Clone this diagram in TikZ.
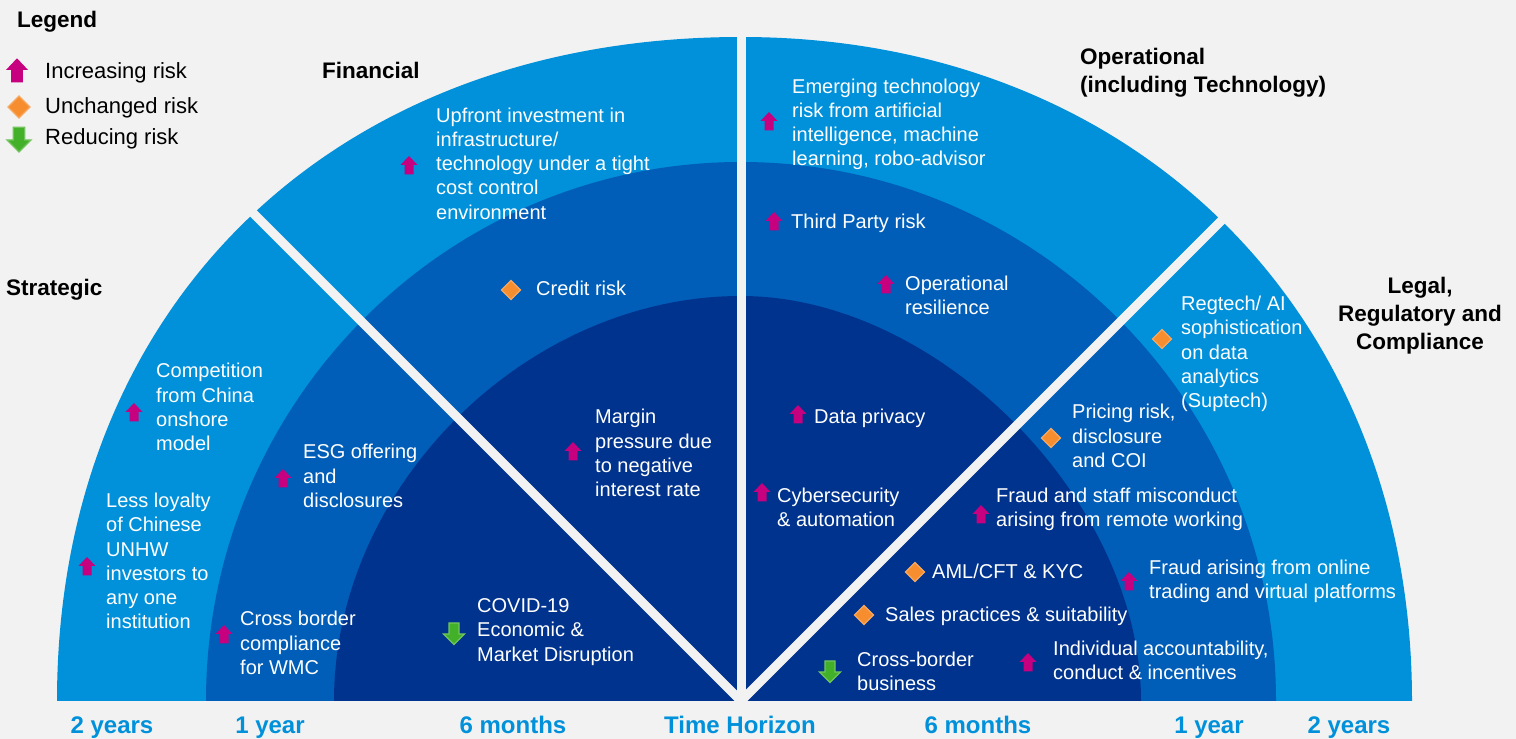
\documentclass[tikz,border=0pt]{standalone}
\usepackage{fontspec}
\setmainfont{Liberation Sans}
\usetikzlibrary{positioning}

\definecolor{bgrey}{HTML}{F2F2F2}
\definecolor{ringout}{HTML}{0091DA}
\definecolor{ringmid}{HTML}{005EB8}
\definecolor{ringin}{HTML}{00338D}
\definecolor{riskpink}{HTML}{C6007E}
\definecolor{riskorange}{HTML}{F68D2E}
\definecolor{riskgreen}{HTML}{43B02A}

\tikzset{
  riskup/.pic={\fill[riskpink] (-4.5,-9.5) -- (-4.5,0) -- (-8.5,0) -- (0,9) -- (8.5,0) -- (4.5,0) -- (4.5,-9.5) -- cycle;},
  riskflat/.pic={\fill[riskorange, draw=riskorange!75, line width=1.2] (0,9.5) -- (9.5,0) -- (0,-9.5) -- (-9.5,0) -- cycle;},
  riskdown/.pic={\fill[riskgreen, draw=riskgreen!75, line width=1.2] (-5,11) -- (-5,0) -- (-10.5,0) -- (0,-10.5) -- (10.5,0) -- (5,0) -- (5,11) -- cycle;},
  risk/.style={text=white, font=\fontsize{20}{24.2}\selectfont, align=left, anchor=west, inner sep=0pt},
  heading/.style={font=\bfseries\fontsize{22.5}{28}\selectfont, align=left, anchor=west, inner sep=0pt},
  legtext/.style={font=\fontsize{22}{26}\selectfont, anchor=west, inner sep=0pt},
  horizon/.style={text=ringout, font=\bfseries\fontsize{24}{28}\selectfont, anchor=base, inner sep=0pt},
  divider/.style={draw=bgrey, line width=9}
}

\begin{document}
\begin{tikzpicture}[x=1pt, y=1pt]
  \fill[bgrey] (0,0) rectangle (1516,739);
  \useasboundingbox (0,0) rectangle (1516,739);

  \coordinate (O) at (741,38);

  % rings, outside in
  \fill[ringout] (57,38) .. controls (57,433.7) and (333.3,702) .. (741,702)
                 .. controls (1134.2,702) and (1412,427.1) .. (1412,38) -- cycle;
  \fill[ringmid] (206,38) .. controls (206,335.7) and (445.5,577) .. (741,577)
                 .. controls (1036.5,577) and (1276,335.7) .. (1276,38) -- cycle;
  \fill[ringin] (334,38) .. controls (334,252.2) and (525.7,443) .. (741,443)
                .. controls (938.6,443) and (1141,238.1) .. (1141,38) -- cycle;

  % sector dividers
  \foreach \a in {45,90,135}
    \draw[divider] (O) -- ++(\a:740);

  % legend
  \node[heading] (legend) at (17,717) {Legend};
  \pic[scale=1.3] at (17,669) {riskup};
  \node[legtext] (leginc) at (45,666) {Increasing risk};
  \pic[scale=1.15] at (19,632) {riskflat};
  \node[legtext] (legsame) at (45,631) {Unchanged risk};
  \pic[scale=1.15] at (19,599) {riskdown};
  \node[legtext] (legdec) at (45,600) {Reducing risk};

  % sector headings
  \node[heading] (strat) at (6,449) {Strategic};
  \node[heading] (fin) at (322,669) {Financial};
  \node[heading] (oper) at (1080,666.5) {Operational\\(including Technology)};
  \node[heading, align=center, anchor=center] (legal) at (1420,423.5) {Legal,\\Regulatory and\\Compliance};

  % strategic
  \pic at (134,327) {riskup};
  \node[risk] (compet) at (156,332) {Competition\\from China\\onshore\\model};
  \pic at (87,173) {riskup};
  \node[risk] (loyal) at (106,178) {Less loyalty\\of Chinese\\UNHW\\investors to\\any one\\institution};
  \pic at (283,261) {riskup};
  \node[risk] (esg) at (303,263) {ESG offering\\and\\disclosures};
  \pic at (224,105) {riskup};
  \node[risk] (xborder) at (240,96) {Cross border\\compliance\\for WMC};

  % financial
  \pic at (409,574) {riskup};
  \node[risk] (upfront) at (436,575.5) {Upfront investment in\\infrastructure/\\technology under a tight\\cost control\\environment};
  \pic at (511,449) {riskflat};
  \node[risk] (credit) at (536,451) {Credit risk};
  \pic at (573,288) {riskup};
  \node[risk] (margin) at (595,286) {Margin\\pressure due\\to negative\\interest rate};
  \pic at (454,105) {riskdown};
  \node[risk] (covid) at (477,107) {COVID-19\\Economic \&\\Market Disruption};

  % operational
  \pic at (769,618) {riskup};
  \node[risk] (emerg) at (792,614.5) {Emerging technology\\risk from artificial\\intelligence, machine\\learning, robo-advisor};
  \pic at (774,518) {riskup};
  \node[risk] (third) at (791,516) {Third Party risk};
  \pic at (886,455) {riskup};
  \node[risk] (resil) at (905,443.5) {Operational\\resilience};
  \pic at (798,325) {riskup};
  \node[risk] (privacy) at (814,321) {Data privacy};
  \pic at (762,247) {riskup};
  \node[risk] (cyber) at (777,232) {Cybersecurity\\\& automation};

  % legal, regulatory and compliance
  \pic at (1162,400) {riskflat};
  \node[risk] (regtech) at (1181,385) {Regtech/ AI\\sophistication\\on data\\analytics\\(Suptech)};
  \pic at (1051,301) {riskflat};
  \node[risk] (pricing) at (1072,303) {Pricing risk,\\disclosure\\and COI};
  \pic at (981,225) {riskup};
  \node[risk] (fraudstaff) at (996,229.5) {Fraud and staff misconduct\\arising from remote working};
  \pic at (1129,158) {riskup};
  \node[risk] (fraudonline) at (1149,158) {Fraud arising from online\\trading and virtual platforms};
  \pic at (915,167) {riskflat};
  \node[risk] (aml) at (932,168) {AML/CFT \& KYC};
  \pic at (864,124) {riskflat};
  \node[risk] (sales) at (885,123) {Sales practices \& suitability};
  \pic at (1028,77) {riskup};
  \node[risk] (account) at (1053,78.5) {Individual accountability,\\conduct \& incentives};
  \pic at (830,67) {riskdown};
  \node[risk] (xbusiness) at (857,67.5) {Cross-border\\business};

  % time horizon
  \node[horizon] (hl2) at (112,5.5) {2 years};
  \node[horizon] (hl1) at (270,5.5) {1 year};
  \node[horizon] (hl6) at (513,5.5) {6 months};
  \node[horizon] (hmid) at (740,5.5) {Time Horizon};
  \node[horizon] (hr6) at (978,5.5) {6 months};
  \node[horizon] (hr1) at (1209,5.5) {1 year};
  \node[horizon] (hr2) at (1349,5.5) {2 years};
\end{tikzpicture}
\end{document}
